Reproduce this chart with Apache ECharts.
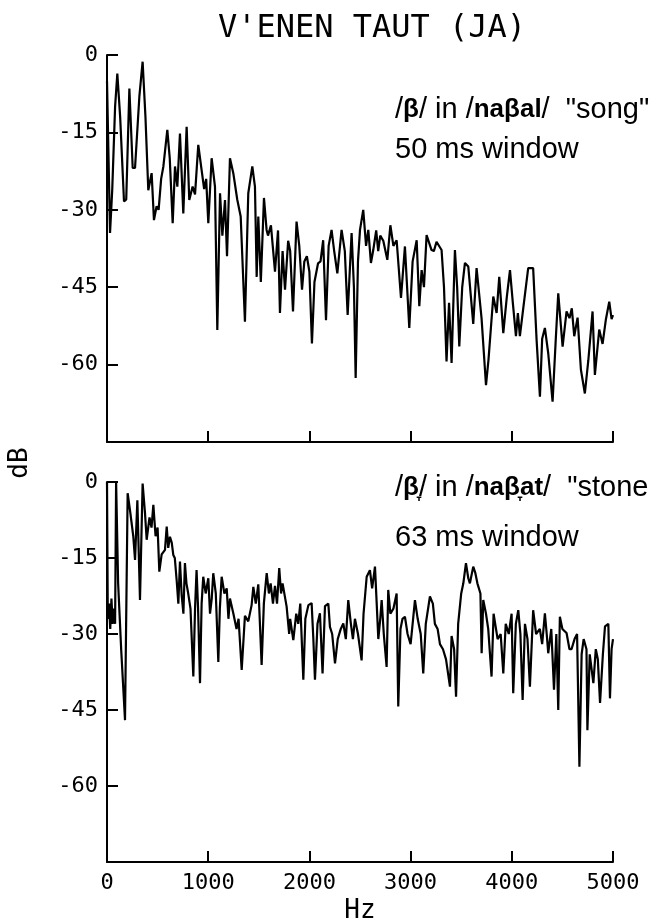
<!DOCTYPE html>
<html>
<head>
<meta charset="utf-8">
<script src="https://cdn.jsdelivr.net/npm/echarts@6/dist/echarts.min.js"></script>
<style>
  html, body { margin: 0; padding: 0; background: #fff; }
  #chart { width: 658px; height: 923px; }
</style>
</head>
<body>
<div id="chart"></div>
<script>
// spectrum of /β/ in /naβal/ "song" (Hz, dB)
const songSpectrum = [
  [0,-5],[30,-34.5],[52,-26],[80,-10],[102,-3.6],[130,-12],[168,-28.4],[190,-28],[221,-6.5],
  [254,-21.9],[277,-21.9],[320,-8],[352,-1.3],[380,-12],[408,-26.2],[441,-22.9],[464,-32],
  [490,-29.3],[510,-30],[535,-24],[557,-21.6],[596,-14.5],[620,-20],[649,-32.6],[672,-21.6],
  [695,-25.5],[721,-15.2],[754,-30.7],[787,-13.9],[813,-28.1],[846,-25.5],[870,-27],[902,-17.4],
  [935,-22.3],[960,-26],[980,-24],[1001,-32.6],[1034,-20],[1067,-25.5],[1090,-53.3],[1117,-26.8],
  [1140,-35],[1166,-28.1],[1186,-39],[1215,-20],[1248,-22.9],[1287,-28],[1321,-31.3],[1363,-51.7],
  [1396,-26.8],[1436,-21.6],[1462,-25.5],[1479,-43],[1495,-31.3],[1520,-44],[1551,-27.7],[1577,-33.9],
  [1591,-35],[1620,-33],[1660,-42],[1690,-34],[1709,-50],[1735,-38],[1759,-45.5],[1790,-36],
  [1810,-38],[1838,-49.7],[1873,-32.3],[1900,-37],[1927,-45.5],[1950,-40],[1975,-39],[2000,-42],
  [2025,-55.9],[2050,-44],[2085,-40.4],[2110,-40],[2136,-35.9],[2164,-51.4],[2190,-37],[2219,-33.9],
  [2245,-38],[2276,-42.3],[2318,-33.9],[2350,-38],[2378,-50.4],[2417,-34.5],[2440,-45],[2457,-62.6],
  [2480,-40],[2500,-33.9],[2532,-30],[2560,-37],[2582,-33.9],[2608,-40.3],[2631,-37.8],[2660,-34],
  [2680,-38],[2700,-35],[2730,-36],[2770,-39.7],[2800,-33],[2830,-37],[2862,-35.9],[2905,-47.1],
  [2944,-37.1],[2987,-52.9],[3020,-40],[3060,-35.9],[3086,-48.7],[3109,-41.7],[3132,-45],[3158,-34.9],
  [3207,-37.8],[3230,-38],[3256,-36.2],[3306,-37.8],[3330,-45],[3355,-59.4],[3380,-48],[3405,-59.7],
  [3438,-37.8],[3460,-45],[3481,-56.5],[3510,-45],[3537,-40.3],[3570,-41],[3619,-52.1],[3652,-41.3],
  [3701,-51],[3745,-64],[3770,-59],[3817,-46.8],[3850,-50],[3876,-43],[3916,-53.9],[3950,-47],
  [3982,-41.7],[4010,-48],[4041,-54.5],[4060,-50],[4080,-54.5],[4120,-48],[4162,-41.3],[4211,-41.3],
  [4245,-55.2],[4278,-66.2],[4300,-55],[4327,-52.9],[4360,-57.8],[4403,-67.2],[4436,-54.5],[4459,-46.2],
  [4502,-56.5],[4541,-49.7],[4570,-51],[4593,-49.1],[4617,-54.5],[4650,-50.9],[4683,-61],[4722,-65.6],
  [4756,-59.2],[4798,-49.7],[4821,-62],[4864,-53.2],[4897,-56],[4930,-51.2],[4963,-47.8],[4986,-51.2],
  [5000,-50.4]
];

// spectrum of /β̞/ in /naβ̞at/ "stone" (Hz, dB)
const stoneSpectrum = [
  [0,0],[8,-27],[20,-24],[32,-29],[44,-23],[56,-28],[68,-25],[80,-28],[90,0],[100,0],[110,-20],
  [140,-33],[178,-47],[204,-2.2],[230,-6],[260,-10.8],[277,-15.4],[300,-3.6],[326,-23.3],[352,-0.3],
  [375,-6],[392,-11.4],[420,-7],[440,-9],[458,-4.5],[480,-10.7],[500,-9],[517,-17.7],[540,-14.3],
  [573,-13.4],[590,-8.8],[605,-13],[622,-10.8],[640,-12],[655,-14.4],[670,-15],[688,-19.3],[705,-24],
  [721,-15.7],[738,-22.4],[755,-26],[770,-16],[785,-20],[800,-21.7],[825,-25],[853,-38.4],[870,-25],
  [885,-17.4],[900,-25],[919,-39.7],[935,-24],[951,-18.7],[975,-22],[1001,-19],[1018,-26],[1035,-23],
  [1050,-18],[1075,-22],[1100,-35.5],[1115,-25],[1133,-18.7],[1160,-22],[1183,-21],[1200,-27],
  [1215,-23],[1248,-25.9],[1280,-29],[1300,-27],[1331,-37.1],[1363,-26.4],[1396,-27.5],[1429,-24.3],
  [1446,-20.7],[1470,-24],[1495,-20.2],[1528,-36.1],[1550,-24],[1578,-18],[1600,-22],[1617,-20],
  [1640,-24],[1660,-20.5],[1680,-24],[1702,-17],[1720,-22],[1735,-20],[1775,-24.6],[1800,-30],
  [1810,-27],[1841,-31.2],[1870,-26],[1890,-28],[1910,-24],[1940,-39],[1960,-27],[1990,-24.3],
  [2022,-23.9],[2039,-31],[2055,-39],[2080,-28],[2104,-25.9],[2130,-37.8],[2154,-24.5],[2187,-24],
  [2203,-28.6],[2225,-30],[2253,-35.8],[2280,-31],[2310,-29],[2335,-27.9],[2360,-31],[2384,-23.3],
  [2410,-28],[2430,-31],[2450,-27],[2480,-30],[2516,-35.2],[2535,-26],[2566,-18.7],[2598,-17.4],
  [2620,-21],[2648,-16.7],[2665,-24],[2681,-31],[2700,-27],[2714,-23.3],[2735,-30],[2763,-36.5],
  [2779,-21.3],[2800,-26],[2830,-25],[2862,-22],[2878,-44.3],[2900,-29],[2920,-27],[2944,-26.6],
  [2970,-30],[3000,-32],[3020,-28],[3043,-23.3],[3070,-27],[3100,-30],[3125,-37.8],[3150,-28],
  [3191,-22.6],[3220,-24],[3240,-28],[3267,-29],[3290,-32],[3320,-33],[3350,-35],[3389,-40.4],
  [3405,-30.4],[3430,-33],[3449,-42.4],[3470,-28],[3500,-22],[3521,-20],[3547,-16],[3570,-19],
  [3586,-20],[3619,-16.7],[3640,-18],[3660,-20],[3690,-22],[3702,-33.8],[3718,-23.3],[3745,-26],
  [3767,-29],[3800,-38.4],[3820,-26],[3833,-25.9],[3860,-31],[3890,-30],[3916,-37.8],[3940,-28],
  [3970,-30],[3998,-26],[4014,-41.7],[4040,-28],[4064,-25.3],[4085,-30],[4107,-43],[4130,-28],
  [4155,-31],[4179,-40.4],[4211,-25.3],[4240,-30],[4277,-29],[4300,-32],[4327,-25.9],[4345,-30],
  [4360,-33.8],[4390,-29],[4417,-41],[4440,-30],[4459,-45],[4475,-26.6],[4500,-29],[4541,-29.8],
  [4570,-33],[4590,-33],[4620,-31],[4645,-30],[4668,-56.2],[4690,-34],[4710,-31],[4738,-33],
  [4747,-49],[4770,-34],[4806,-39.7],[4830,-33],[4850,-35],[4872,-43.6],[4900,-34],[4921,-28.5],
  [4954,-28],[4970,-42.7],[4986,-33],[5000,-31]
];

const hzTicks = [0, 5000, 1000];   // min, max, step
const dbTicks = [-75, 0, 15];

const plotFont = 'DejaVu Sans Mono';
const textFont = '"Liberation Sans", Arial, sans-serif';

let chartDom = document.getElementById('chart');
let myChart = echarts.init(chartDom, null, { renderer: 'canvas' });

function xAxisFor(idx, showLabels) {
    return {
        type: 'value',
        gridIndex: idx,
        min: hzTicks[0],
        max: hzTicks[1],
        interval: hzTicks[2],
        name: showLabels ? 'Hz' : '',
        nameLocation: 'middle',
        nameGap: 36,
        nameTextStyle: { fontFamily: plotFont, fontSize: 26, color: '#000' },
        axisLine: { onZero: false, lineStyle: { color: '#000', width: 2 } },
        axisTick: { inside: true, length: 11, lineStyle: { color: '#000', width: 2 } },
        axisLabel: {
            show: showLabels,
            margin: 10,
            fontFamily: plotFont,
            fontSize: 22,
            color: '#000',
            formatter: function (v) { return String(v); }
        },
        splitLine: { show: false }
    };
}

function yAxisFor(idx) {
    return {
        type: 'value',
        gridIndex: idx,
        min: dbTicks[0],
        max: dbTicks[1],
        interval: dbTicks[2],
        axisLine: { onZero: false, lineStyle: { color: '#000', width: 2 } },
        axisTick: { inside: true, length: 11, lineStyle: { color: '#000', width: 2 } },
        axisLabel: {
            margin: 9,
            fontFamily: plotFont,
            fontSize: 22,
            color: '#000',
            formatter: function (v) { return v === dbTicks[0] ? '' : String(v); }
        },
        splitLine: { show: false }
    };
}

const richBold = {
    b: { fontFamily: textFont, fontWeight: 'bold', fontSize: 26, color: '#000' }
};

let option = {
    animation: false,
    backgroundColor: '#fff',
    title: {
        text: "V'ENEN TAUT (JA)",
        left: 367,
        top: 8,
        textAlign: 'center',
        textStyle: { fontFamily: plotFont, fontSize: 32, fontWeight: 'normal', color: '#000' }
    },
    grid: [
        { left: 107, right: 45, top: 55, height: 387, containLabel: false, outerBoundsMode: 'none' },
        { left: 107, right: 45, top: 482, height: 380, containLabel: false, outerBoundsMode: 'none' }
    ],
    xAxis: [xAxisFor(0, false), xAxisFor(1, true)],
    yAxis: [yAxisFor(0), yAxisFor(1)],
    graphic: [
        {
            type: 'text', x: 20, y: 463, rotation: Math.PI / 2,
            style: { text: 'dB', fontFamily: plotFont, fontSize: 26, fill: '#000', align: 'center', verticalAlign: 'middle' }
        },
        {
            type: 'text', x: 395, y: 110,
            style: {
                text: '/{b|β}/ in /{b|naβal}/  "song"',
                rich: richBold,
                fontFamily: textFont, fontSize: 29, fill: '#000', verticalAlign: 'middle'
            }
        },
        {
            type: 'text', x: 395, y: 150,
            style: { text: '50 ms window', fontFamily: textFont, fontSize: 29, fill: '#000', verticalAlign: 'middle' }
        },
        {
            type: 'text', x: 395, y: 488,
            style: {
                text: '/{b|β̞}/ in /{b|naβ̞at}/  "stone',
                rich: richBold,
                fontFamily: textFont, fontSize: 29, fill: '#000', verticalAlign: 'middle'
            }
        },
        {
            type: 'text', x: 395, y: 538,
            style: { text: '63 ms window', fontFamily: textFont, fontSize: 29, fill: '#000', verticalAlign: 'middle' }
        }
    ],
    series: [
        {
            name: 'song',
            type: 'line',
            xAxisIndex: 0,
            yAxisIndex: 0,
            showSymbol: false,
            lineStyle: { color: '#000', width: 2.2 },
            data: songSpectrum
        },
        {
            name: 'stone',
            type: 'line',
            xAxisIndex: 1,
            yAxisIndex: 1,
            showSymbol: false,
            lineStyle: { color: '#000', width: 2.2 },
            data: stoneSpectrum
        }
    ]
};

option && myChart.setOption(option);
</script>
</body>
</html>
